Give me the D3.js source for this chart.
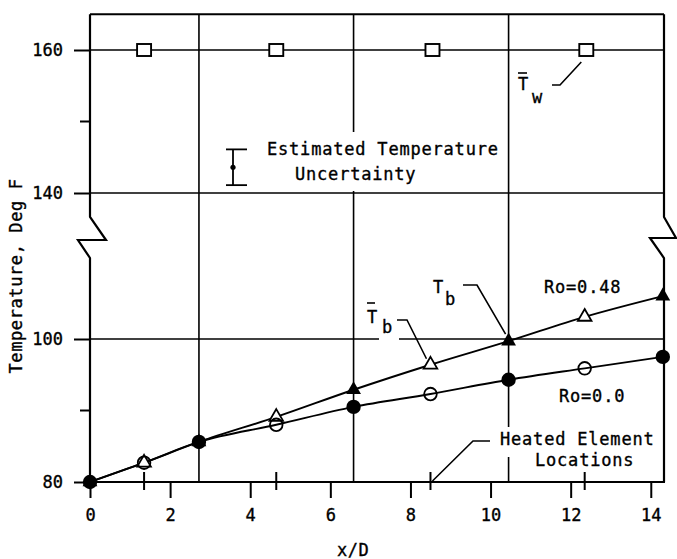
<!DOCTYPE html>
<html>
<head>
<meta charset="utf-8">
<script src="https://cdn.jsdelivr.net/npm/d3@7"></script>
<style>
  body { margin: 0; background: #fff; }
  text { font-family: "DejaVu Sans Mono", "Liberation Mono", monospace; fill: #000; stroke: #000; stroke-width: 0.35px; }
</style>
</head>
<body>
<svg id="chart" width="677" height="559"></svg>
<script>
// Axis ticks
const xTickValues = [0, 2, 4, 6, 8, 10, 12, 14];
const yTicksLow = [80, 100];
const yTicksHigh = [140, 160];
const yMinorTicks = [90, 150];
const yGridValues = [100, 140, 160];

// Measurement stations (filled markers) and mid-stations (open markers)
const stationX = [0, 2.72, 6.58, 10.45, 14.3];
const midStationX = [1.35, 4.65, 8.5, 12.35];
const gridX = [2.72, 6.58, 10.45];
const heatedElementX = [1.35, 4.65, 8.5, 12.35];

// Bulk temperature, Ro = 0.48
const tbRo048 = [80, 85.6, 92.9, 99.7, 106.0];      // T_b  (filled triangles)
const tbBarRo048 = [82.7, 89.1, 96.4, 103.1];       // T̄_b (open triangles)
// Bulk temperature, Ro = 0.0
const tbRo0 = [80, 85.6, 90.5, 94.3, 97.5];         // filled circles
const tbBarRo0 = [82.7, 88.0, 92.3, 95.9];          // open circles
// Mean wall temperature
const twX = [1.35, 4.65, 8.55, 12.39];
const twValues = [160, 160, 160, 160];
// Uncertainty bar
const uncertaintyX = 3.57;
const uncertaintyMid = 143.6;
const uncertaintyHalf = 2.5;

const svg = d3.select("#chart");
const x = d3.scaleLinear().domain([0, 14.33]).range([90, 664]);
// broken temperature axis: two segments with the same degrees-per-pixel
const yLow = d3.scaleLinear().domain([80, 100]).range([482, 339]);
const yHigh = d3.scaleLinear().domain([140, 160]).range([193, 50]);
const y = v => (v < 120 ? yLow(v) : yHigh(v));

const X0 = x(0), X1 = x(14.33), Y0 = y(80), Y1 = y(165);
const ink = "#000";

// gridlines
const grid = svg.append("g").attr("stroke", ink).attr("stroke-width", 1.6);
grid.selectAll("line.h").data(yGridValues).join("line")
  .attr("x1", X0).attr("x2", X1).attr("y1", d => y(d)).attr("y2", d => y(d));
grid.selectAll("line.v").data(gridX).join("line")
  .attr("x1", d => x(d)).attr("x2", d => x(d)).attr("y1", Y1).attr("y2", Y0);

// frame with axis breaks
const bTop = y(140) + 24, bMid = y(140) + 47, bBot = y(140) + 65;
const frame = svg.append("g").attr("fill", "none").attr("stroke", ink).attr("stroke-width", 2.2);
frame.append("path").attr("d",
  `M${X0},${Y1}V${bTop}L${X0 + 16},${bMid}L${X0 - 12},${bMid}L${X0},${bBot}V${Y0}`);
frame.append("path").attr("d",
  `M${X1},${Y1}V${bTop}L${X1 + 12},${bMid - 2}L${X1 - 14},${bMid - 2}L${X1},${bBot}V${Y0}`);
frame.append("line").attr("x1", X0).attr("x2", X1).attr("y1", Y1).attr("y2", Y1);
frame.append("line").attr("x1", X0 - 1).attr("x2", X1 + 1).attr("y1", Y0).attr("y2", Y0);

// axes
const axes = [
  svg.append("g").attr("transform", `translate(0,${Y0})`)
    .call(d3.axisBottom(x).tickValues(xTickValues).tickSize(16).tickSizeOuter(0).tickPadding(11)),
  svg.append("g").attr("transform", `translate(${X0},0)`)
    .call(d3.axisLeft(yLow).tickValues(yTicksLow).tickFormat(d3.format("d")).tickSize(16).tickSizeOuter(0).tickPadding(11)),
  svg.append("g").attr("transform", `translate(${X0},0)`)
    .call(d3.axisLeft(yHigh).tickValues(yTicksHigh).tickFormat(d3.format("d")).tickSize(16).tickSizeOuter(0).tickPadding(11))
];
axes.forEach(g => {
  g.select(".domain").remove();
  g.selectAll(".tick line").attr("stroke", ink).attr("stroke-width", 2);
  g.selectAll(".tick text").attr("font-size", 17).attr("fill", ink)
    .style("font-family", "'DejaVu Sans Mono', monospace");
});
svg.append("g").selectAll("line").data(yMinorTicks).join("line")
  .attr("x1", X0 - 10).attr("x2", X0).attr("y1", d => y(d)).attr("y2", d => y(d))
  .attr("stroke", ink).attr("stroke-width", 2);
// heated element marks crossing the x axis
svg.append("g").selectAll("line").data(heatedElementX).join("line")
  .attr("x1", d => x(d)).attr("x2", d => x(d)).attr("y1", Y0 - 10).attr("y2", Y0 + 8)
  .attr("stroke", ink).attr("stroke-width", 2);

// white backing behind annotations (breaks the gridlines)
const masks = [[262, 132, 240, 59], [494, 427, 164, 30], [379, 330, 20, 12]];
svg.append("g").selectAll("rect").data(masks).join("rect")
  .attr("x", d => d[0]).attr("y", d => d[1]).attr("width", d => d[2]).attr("height", d => d[3])
  .attr("fill", "#fff");

// series lines
function seriesPoints(fullVals, midVals) {
  const pts = stationX.map((sx, i) => [sx, fullVals[i]])
    .concat(midStationX.map((mx, i) => [mx, midVals[i]]));
  return pts.sort((a, b) => a[0] - b[0]);
}
const line = d3.line().x(d => x(d[0])).y(d => y(d[1])).curve(d3.curveMonotoneX);
svg.append("path").datum(seriesPoints(tbRo048, tbBarRo048))
  .attr("d", line).attr("fill", "none").attr("stroke", ink).attr("stroke-width", 1.9);
svg.append("path").datum(seriesPoints(tbRo0, tbBarRo0))
  .attr("d", line).attr("fill", "none").attr("stroke", ink).attr("stroke-width", 1.9);

// markers
const tri = d3.symbol().type(d3.symbolTriangle).size(95);
const triOpen = d3.symbol().type(d3.symbolTriangle).size(80);
svg.append("g").selectAll("path").data(midStationX).join("path")
  .attr("d", triOpen).attr("transform", (d, i) => `translate(${x(d)},${y(tbBarRo048[i])})`)
  .attr("fill", "#fff").attr("stroke", ink).attr("stroke-width", 1.8);
svg.append("g").selectAll("circle").data(midStationX).join("circle")
  .attr("cx", d => x(d)).attr("cy", (d, i) => y(tbBarRo0[i])).attr("r", 6.3)
  .attr("fill", "none").attr("stroke", ink).attr("stroke-width", 1.8);
svg.append("g").selectAll("circle").data(stationX).join("circle")
  .attr("cx", d => x(d)).attr("cy", (d, i) => y(tbRo0[i])).attr("r", 7.2).attr("fill", ink);
svg.append("g").selectAll("path").data(stationX).join("path")
  .attr("d", tri).attr("transform", (d, i) => `translate(${x(d)},${y(tbRo048[i])})`)
  .attr("fill", ink);

// wall temperature squares
svg.append("g").selectAll("rect").data(twX).join("rect")
  .attr("x", d => x(d) - 7).attr("y", (d, i) => y(twValues[i]) - 6)
  .attr("width", 14).attr("height", 12)
  .attr("fill", "#fff").attr("stroke", ink).attr("stroke-width", 1.9);

// uncertainty bar
const ub = svg.append("g").attr("stroke", ink).attr("stroke-width", 1.8);
const ux = x(uncertaintyX);
ub.append("line").attr("x1", ux).attr("x2", ux)
  .attr("y1", y(uncertaintyMid + uncertaintyHalf)).attr("y2", y(uncertaintyMid - uncertaintyHalf));
[uncertaintyMid + uncertaintyHalf, uncertaintyMid - uncertaintyHalf].forEach(v => {
  ub.append("line").attr("x1", ux - 7).attr("x2", ux + 14).attr("y1", y(v)).attr("y2", y(v));
});
svg.append("circle").attr("cx", ux).attr("cy", y(uncertaintyMid)).attr("r", 2.6).attr("fill", ink);

// annotation text
const fs = 17;
function label(tx, ty, s, spacing = 0.8) {
  svg.append("text").attr("x", tx).attr("y", ty).attr("font-size", fs)
    .attr("letter-spacing", spacing).text(s);
}
label(267, 155, "Estimated Temperature");
label(295, 180, "Uncertainty");
label(544, 293, "Ro=0.48");
label(559, 402, "Ro=0.0");
label(500, 445, "Heated Element");
label(535, 466, "Locations");
label(337, 556, "x/D", 0.5);
svg.append("text").attr("transform", "translate(22,276) rotate(-90)")
  .attr("text-anchor", "middle").attr("font-size", fs).attr("letter-spacing", 0.6)
  .text("Temperature, Deg F");

// symbol labels T_w, T_b, T̄_b with leaders
label(518, 90, "T", 0); label(532, 103, "w", 0);
label(433, 293, "T", 0); label(445, 305, "b", 0);
label(367, 323, "T", 0); label(382, 333, "b", 0);
const lead = svg.append("g").attr("fill", "none").attr("stroke", ink).attr("stroke-width", 1.6);
lead.append("line").attr("x1", 518).attr("x2", 527).attr("y1", 73).attr("y2", 73);
lead.append("line").attr("x1", 367).attr("x2", 375).attr("y1", 303).attr("y2", 303);
lead.append("path").attr("d", `M552,85H560L${x(twX[3]) - 5},${y(160) + 12}`);
lead.append("path").attr("d", `M463,285H477L${x(stationX[3]) - 3},${y(tbRo048[3]) - 7}`);
lead.append("path").attr("d", `M397,320H407L${x(midStationX[2]) - 4},${y(tbBarRo048[2]) - 6}`);
lead.append("path").attr("d", `M490,441H473L${x(heatedElementX[2]) + 2},${Y0 - 1}`);
</script>
</body>
</html>
